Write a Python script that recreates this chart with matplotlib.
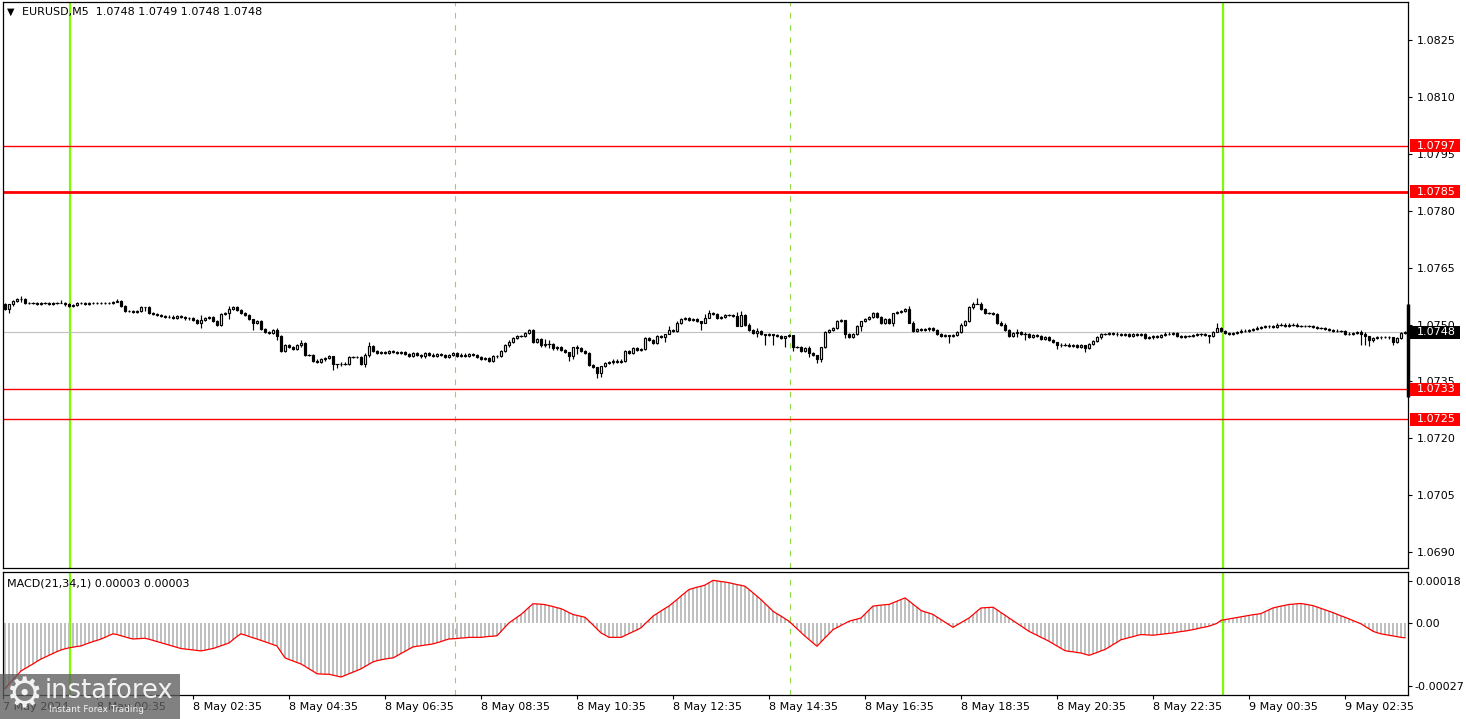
import matplotlib
matplotlib.use("Agg")
import matplotlib.pyplot as plt
from matplotlib.patches import Rectangle
import numpy as np

plt.rcParams['font.family'] = ['DejaVu Sans']
plt.rcParams['font.size'] = 8

# EURUSD M5 closes, in 1e-5 above 1.07000 (7 May 22:40 .. 9 May 03:50)
first_open = 553
closes = [
    540, 553, 562, 566, 568,
    557, 556, 556, 555, 556, 556, 555, 556, 556,
    557, 553, 550,
    552, 556, 557, 555, 556, 557, 556, 557, 556, 557, 558, 562,
    548, 536, 535, 534, 535, 545, 546,
    530, 528,
    525, 522, 520, 521, 518, 522, 520, 516, 518,
    512, 505, 511,
    518, 520, 509, 500,
    528, 530, 540, 545, 538,
    530, 525, 515, 505, 510,
    488, 480, 478, 485, 470,
    430, 445, 440, 435, 445, 450,
    420, 420, 405, 402, 408, 412, 418,
    395, 395, 397, 397, 415, 415, 414, 397,
    420, 443, 430, 425, 428, 425, 430, 427, 425, 428,
    422, 418, 425, 420, 416, 424, 421, 418, 423, 420, 415, 420, 424, 418, 421, 417, 422, 419, 414,
    410, 412, 405, 416, 418,
    430, 445, 455, 465, 470, 470, 478, 485,
    455, 462, 445, 448, 448, 437, 440, 433, 428, 418, 440, 438, 430, 425,
    393, 388, 372, 390, 398, 400, 405, 402, 405,
    430, 425, 437, 432, 436,
    465, 460, 452, 470, 468, 475, 485, 483, 505,
    515, 518, 512, 515, 510, 505, 518, 530, 528, 518,
    520, 525, 525, 523, 495, 525, 500,
    485, 478, 482, 476, 472, 474, 472, 470, 465, 470, 472,
    440, 440, 430, 438, 425, 420, 410,
    440, 480, 485, 490, 510, 512,
    475, 468, 475, 495, 510, 515, 520, 530, 520, 505, 515, 505, 530, 532, 535, 540,
    505, 482, 487, 485, 487, 490, 485, 475, 470, 472, 470, 473, 480,
    500, 510, 545, 555, 555, 540, 530, 530, 528, 505, 500,
    485, 470, 478, 480, 475, 475, 468, 472, 470, 462, 466, 460, 455,
    445, 447, 447, 443, 445, 440, 445, 438, 448, 457, 466, 475,
    475, 478, 476, 474, 472, 474, 470, 474, 473, 474, 465, 466, 470, 468, 472, 476, 475, 477,
    470, 468, 470, 470, 472, 474, 474, 472, 470,
    480, 490, 482,
    478, 475, 477, 480, 484, 483, 485, 488, 492, 494, 497, 495, 494, 500, 500, 496, 500, 500,
    496, 496, 497, 497, 494, 490, 490, 488, 485, 484, 482, 482,
    476, 475, 477, 480, 475, 470, 458, 465, 466, 468, 467, 466, 455, 465, 478, 480,
]

# usual wick length and the bars with longer shadows (up, down), 1e-5 units
base_wick = 3
long_wicks = {
    1: (0, 10), 4: (8, 8), 14: (8, 0), 28: (5, 0), 35: (0, 10), 49: (15, 15),
    56: (10, 15), 62: (0, 20), 68: (5, 10), 74: (8, 5), 82: (0, 15), 83: (0, 10),
    90: (5, 10), 91: (10, 5), 135: (15, 5), 136: (10, 10), 141: (0, 15),
    142: (0, 10), 143: (5, 15), 148: (0, 12), 149: (0, 10), 165: (0, 15),
    166: (10, 0), 174: (0, 20), 175: (10, 0), 176: (8, 0), 183: (10, 0),
    184: (10, 0), 188: (10, 10), 190: (0, 25), 192: (0, 25), 195: (0, 25),
    197: (0, 10), 201: (5, 10), 203: (0, 12), 204: (0, 10), 210: (0, 10),
    214: (0, 12), 222: (0, 10), 226: (10, 0), 236: (0, 20), 243: (15, 0),
    253: (8, 10), 255: (5, 15), 263: (0, 10), 270: (0, 10), 301: (0, 20),
    303: (15, 0), 339: (5, 30), 340: (5, 25), 341: (0, 15), 347: (0, 10),
}

# MACD(21,34,1) per bar, 1e-6 units
macd = [
    -283, -262, -244, -225, -206, -196, -186, -176, -165, -155,
    -147, -139, -131, -123, -116, -111, -107, -104, -101, -99,
    -92, -86, -80, -75, -69, -62, -54, -47, -50, -55,
    -60, -65, -69, -68, -67, -66, -70, -75, -80, -85,
    -90, -95, -100, -105, -110, -112, -114, -116, -118, -120,
    -117, -113, -110, -104, -98, -92, -86, -72, -58, -47,
    -52, -58, -64, -69, -75, -81, -87, -93, -99, -125,
    -150, -157, -163, -170, -176, -186, -197, -207, -218, -219,
    -220, -220, -224, -228, -232, -225, -218, -211, -204, -197,
    -187, -177, -167, -162, -158, -155, -152, -150, -141, -131,
    -122, -112, -103, -100, -98, -95, -93, -90, -85, -80,
    -74, -69, -68, -67, -65, -64, -62, -62, -62, -62,
    -60, -58, -57, -55, -37, -18, 0, 12, 24, 36,
    51, 67, 82, 81, 80, 78, 74, 70, 65, 61,
    53, 44, 36, 32, 28, 24, 8, -9, -26, -43,
    -52, -62, -62, -62, -62, -54, -46, -38, -30, -21,
    -4, 12, 29, 40, 51, 62, 72, 86, 100, 115,
    129, 143, 148, 153, 157, 162, 172, 182, 180, 177,
    175, 172, 168, 164, 161, 157, 143, 129, 114, 100,
    83, 67, 50, 39, 29, 18, 7, -9, -25, -41,
    -57, -71, -86, -100, -82, -64, -47, -29, -20, -11,
    -2, 7, 12, 16, 21, 38, 55, 72, 74, 76,
    78, 79, 86, 93, 100, 107, 94, 80, 67, 53,
    47, 42, 36, 25, 14, 3, -8, -19, -9, 1,
    11, 21, 35, 50, 64, 65, 66, 67, 56, 44,
    33, 21, 10, -2, -13, -25, -36, -45, -53, -62,
    -70, -79, -89, -99, -109, -119, -122, -124, -127, -129,
    -134, -139, -133, -127, -120, -114, -104, -93, -83, -72,
    -68, -63, -59, -54, -50, -51, -52, -53, -51, -49,
    -47, -45, -43, -40, -37, -35, -32, -29, -25, -21,
    -18, -14, -8, -2, 11, 14, 17, 20, 23, 26,
    29, 32, 35, 37, 40, 48, 56, 64, 68, 72,
    75, 79, 80, 82, 83, 80, 77, 74, 68, 62,
    56, 50, 44, 37, 30, 24, 17, 10, 3, -4,
    -15, -25, -36, -42, -47, -50, -53, -56, -59, -62,
    -64,
]

level_prices = [1.0797, 1.0785, 1.0733, 1.0725]
level_widths = [1.0, 2.0, 1.0, 1.0]
last_price = 1.0748
last_bar_range = (1.07310, 1.07555)
title_text = "EURUSD,M5  1.0748 1.0749 1.0748 1.0748"
macd_text = "MACD(21,34,1) 0.00003 0.00003"
price_ticks = [1.0825, 1.0810, 1.0795, 1.0780, 1.0765, 1.0750, 1.0735, 1.0720, 1.0705, 1.0690]
macd_ticks = [0.00018, 0.0, -0.00027]
macd_tick_labels = ["0.00018", "0.00", "-0.00027"]
time_labels = ["7 May 2024", "8 May 00:35", "8 May 02:35", "8 May 04:35", "8 May 06:35",
               "8 May 08:35", "8 May 10:35", "8 May 12:35", "8 May 14:35", "8 May 16:35",
               "8 May 18:35", "8 May 20:35", "8 May 22:35", "9 May 00:35", "9 May 02:35"]
time_label_bars = [-0.5] + [23 + 24 * k for k in range(14)]
day_start_bars = [16.3, 304.5]
session_bars = [112.5, 196.3]

W, H = 1466, 719
fig = plt.figure(figsize=(W / 100, H / 100), dpi=100)


def box(x0, y0, x1, y1):
    return [x0 / W, 1 - y1 / H, (x1 - x0) / W, (y1 - y0) / H]


ax = fig.add_axes(box(3, 2, 1408, 568))
ax2 = fig.add_axes(box(3, 572, 1408, 695))

c = 1.07 + np.array(closes) * 1e-5
o = np.r_[1.07 + first_open * 1e-5, c[:-1]]
x = np.arange(len(c))
up = np.full(len(c), base_wick * 1e-5)
dn = np.full(len(c), base_wick * 1e-5)
for i, (u, d) in long_wicks.items():
    up[i] = u * 1e-5
    dn[i] = d * 1e-5
top = np.maximum(o, c)
bot = np.minimum(o, c)

green = '#7cfc00'
for a in (ax, ax2):
    for b in day_start_bars:
        a.axvline(b, color=green, lw=1.6, zorder=1)
    for b in session_bars:
        a.axvline(b, color='#8edb4c', lw=0.8, ls=(0, (5, 6)), zorder=1)

# levels and price line
for p, lw in zip(level_prices, level_widths):
    ax.axhline(p, color='red', lw=lw, zorder=2)
ax.axhline(last_price, color='#c0c0c0', lw=0.8, zorder=2)

# candles
ax.vlines(x, bot - dn, top + up, color='black', lw=0.85, zorder=3)
bull = c > o + 0.5e-5
bear = c < o - 0.5e-5
doji = ~(bull | bear)
ax.bar(x[bull], (top - bot)[bull], bottom=bot[bull], width=0.6, facecolor='white',
       edgecolor='black', linewidth=0.85, zorder=4)
ax.bar(x[bear], (top - bot)[bear], bottom=bot[bear], width=0.6, facecolor='black',
       edgecolor='black', linewidth=0.85, zorder=4)
ax.hlines(c[doji], x[doji] - 0.4, x[doji] + 0.4, color='black', lw=0.85, zorder=4)
ax.vlines(len(c) - 0.25, *last_bar_range, color='black', lw=2.5, zorder=5, clip_on=False)

ax.set_xlim(-0.5, 350.75)
ax.set_ylim(1.068592, 1.083487)
ax.set_xticks([])
ax.yaxis.tick_right()
ax.set_yticks(price_ticks)
ax.set_yticklabels([f"{p:.4f}" for p in price_ticks])
ax.tick_params(axis='y', length=3, width=0.8, pad=3)

# right side price tags
tr = ax.get_yaxis_transform()
tag_h = 13 / 3.8 * 1e-4
for p in level_prices + [last_price]:
    col = 'black' if p == last_price else 'red'
    ax.add_patch(Rectangle((1 + 2 / 1405, p - tag_h / 2), 50 / 1405, tag_h, transform=tr,
                           facecolor=col, edgecolor='none', clip_on=False, zorder=6))
    ax.text(1 + 9 / 1405, p, f"{p:.4f}", transform=tr, color='white', va='center',
            ha='left', fontsize=8, zorder=7, clip_on=False)

fig.text(7 / W, 1 - 12 / H, "\u25bc", fontsize=7, va='center', ha='left')
fig.text(22 / W, 1 - 12 / H, title_text, fontsize=8, va='center', ha='left')

# MACD panel
m = np.array(macd) * 1e-6
ax2.bar(x, m, width=0.5, color='#c0c0c0', zorder=2)
ax2.plot(x, m, color='red', lw=0.9, zorder=3)
ax2.set_xlim(-0.5, 350.75)
ax2.set_ylim(-0.000309, 0.000218)
ax2.yaxis.tick_right()
ax2.set_yticks(macd_ticks)
ax2.set_yticklabels(macd_tick_labels)
ax2.tick_params(axis='y', length=3, width=0.8, pad=2)
ax2.set_xticks(time_label_bars)
ax2.set_xticklabels(time_labels)
for lbl in ax2.get_xticklabels():
    lbl.set_ha('left')
ax2.tick_params(axis='x', length=3, width=0.8, pad=2)
ax2.text(4 / 1405, 0.91, macd_text, transform=ax2.transAxes, va='center', ha='left', fontsize=8)

for a in (ax, ax2):
    for s in a.spines.values():
        s.set_linewidth(0.9)
        s.set_color('black')

# watermark
fig.patches.append(Rectangle((0, 0), 180 / W, 45 / H, transform=fig.transFigure,
                             facecolor='#5e5e5e', alpha=0.78, edgecolor='none', zorder=10))
fig.text(24 / W, 1 - 695 / H, "\u2699", fontsize=30, color='white', alpha=0.9,
         ha='center', va='center', zorder=11)
fig.text(45 / W, 1 - 691 / H, "instaforex", fontsize=18.5, color='white', alpha=0.9,
         ha='left', va='center', zorder=11)
fig.text(49 / W, 1 - 710 / H, "Instant Forex Trading", fontsize=6.5, color='white',
         alpha=0.9, ha='left', va='center', zorder=11)

fig.savefig('out.png', dpi=100)
